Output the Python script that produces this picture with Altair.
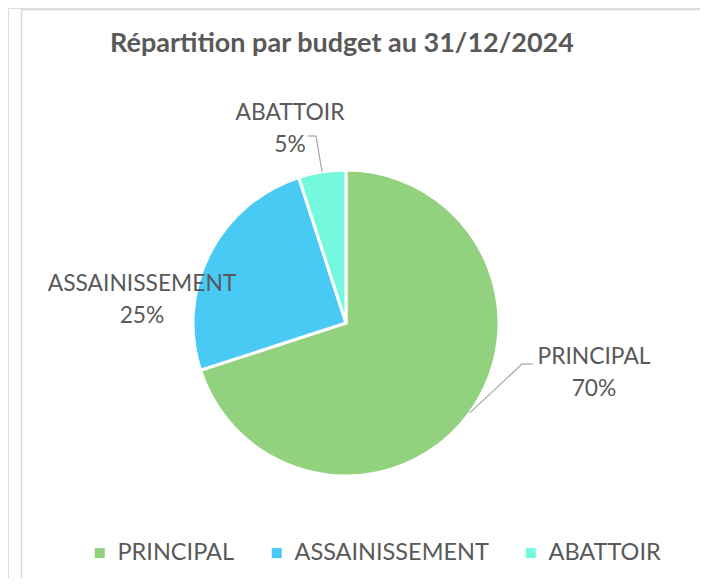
import altair as alt
import pandas as pd

categories = ["PRINCIPAL", "ASSAINISSEMENT", "ABATTOIR"]
values = [70, 25, 5]
order_idx = [0, 1, 2]
colors = ["#92D17E", "#48CAF5", "#75F9DE"]
title_text = "Répartition par budget au 31/12/2024"

df = pd.DataFrame({"cat": categories, "val": values, "ord": order_idx})

CX, CY, R = 338, 315, 153
FONT = "Lato"
TXT = "#595959"
LINE = "#A6A6A6"

base = alt.Chart(df)

pie = base.mark_arc(stroke="white", strokeWidth=3, radius=R).encode(
    theta=alt.Theta("val:Q", stack=True),
    order=alt.Order("ord:Q"),
    color=alt.Color(
        "cat:N",
        scale=alt.Scale(domain=categories, range=colors),
        sort=categories,
        legend=alt.Legend(
            title=None,
            orient="none",
            legendX=80,
            legendY=533,
            padding=0,
            direction="horizontal",
            symbolType="square",
            symbolSize=100,
            symbolStrokeWidth=0,
            labelFont=FONT,
            labelFontSize=23.5,
            labelColor=TXT,
            labelOffset=6,
            labelLimit=400,
            columnPadding=30,
        ),
    ),
    x=alt.value(CX),
    y=alt.value(CY),
)

# leader lines: from slice mid-angle edge to elbow
geo = base.transform_joinaggregate(total="sum(val)").transform_window(
    cum="sum(val)", sort=[alt.SortField("ord")], frame=[None, 0]
).transform_calculate(
    mid="2*PI*(datum.cum - datum.val/2)/datum.total",
).transform_calculate(
    ex=f"{CX} + {R}*sin(datum.mid)",
    ey=f"{CY} - {R}*cos(datum.mid)",
)

lead_ab = geo.transform_filter(alt.datum.cat == "ABATTOIR").mark_rule(
    color=LINE, strokeWidth=1.2
).encode(
    x=alt.X("ex:Q", scale=None), y=alt.Y("ey:Q", scale=None),
    x2=alt.value(308), y2=alt.value(128),
)
lead_ab_h = geo.transform_filter(alt.datum.cat == "ABATTOIR").mark_rule(
    color=LINE, strokeWidth=1.2
).encode(x=alt.value(300), x2=alt.value(308), y=alt.value(128))

lead_pr = geo.transform_filter(alt.datum.cat == "PRINCIPAL").mark_rule(
    color=LINE, strokeWidth=1.2
).encode(
    x=alt.X("ex:Q", scale=None), y=alt.Y("ey:Q", scale=None),
    x2=alt.value(514), y2=alt.value(356),
)
lead_pr_h = geo.transform_filter(alt.datum.cat == "PRINCIPAL").mark_rule(
    color=LINE, strokeWidth=1.2
).encode(x=alt.value(514), x2=alt.value(525), y=alt.value(356))

labels_layout = {
    "PRINCIPAL": (586, 349),
    "ASSAINISSEMENT": (134, 276),
    "ABATTOIR": (282, 105),
}

label_layers = []
for c in categories:
    lx, ly = labels_layout[c]
    label_layers.append(
        base.transform_filter(alt.datum.cat == c).mark_text(
            font=FONT, fontSize=22.8, color=TXT, align="center", baseline="middle"
        ).encode(text="cat:N", x=alt.value(lx), y=alt.value(ly))
    )
    label_layers.append(
        base.transform_joinaggregate(total="sum(val)")
        .transform_filter(alt.datum.cat == c)
        .transform_calculate(pct="format(datum.val/datum.total, '.0%')")
        .mark_text(font=FONT, fontSize=22.8, color=TXT, align="center", baseline="middle")
        .encode(text="pct:N", x=alt.value(lx), y=alt.value(ly + 32))
    )

title = alt.Chart(pd.DataFrame({"t": [title_text]})).mark_text(
    font=FONT, fontSize=27, fontWeight="bold", color=TXT, align="center", baseline="alphabetic"
).encode(text="t:N", x=alt.value(334), y=alt.value(44))

frame_dummy = pd.DataFrame({"a": [0]})
frame_top = alt.Chart(frame_dummy).mark_rule(color="#D9D9D9", strokeWidth=1.5).encode(
    x=alt.value(13), x2=alt.value(692), y=alt.value(1.5)
)
frame_left = alt.Chart(frame_dummy).mark_rule(color="#D9D9D9", strokeWidth=1.5).encode(
    x=alt.value(13.5), y=alt.value(1), y2=alt.value(570)
)

chart = alt.layer(
    frame_top, frame_left, pie, lead_ab, lead_ab_h, lead_pr, lead_pr_h, *label_layers, title
).properties(
    width=692, height=570, autosize=alt.AutoSizeParams(type="none"), padding=0
).configure_view(stroke=None).configure(background="white")

chart.save("out.html", embed_options={"renderer": "svg", "actions": False})
